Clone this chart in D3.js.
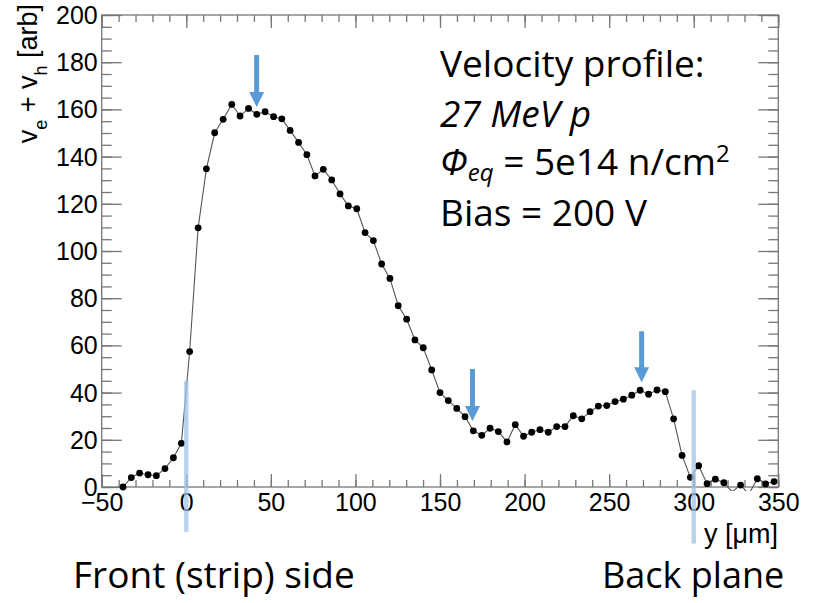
<!DOCTYPE html>
<html>
<head>
<meta charset="utf-8">
<script src="https://cdn.jsdelivr.net/npm/d3@7"></script>
<style>
  body { margin: 0; background: #fff; }
  svg { display: block; }
</style>
</head>
<body>
<div id="vis"></div>
<script>
// depth position y [um] of each measured point
var depth = [-37.4, -32.5, -27.6, -22.6, -17.7, -12.6, -7.6, -2.9, 2.0, 7.0,
    11.9, 16.8, 21.8, 26.9, 31.8, 36.8, 41.7, 46.6, 51.6, 56.5,
    61.4, 66.4, 71.3, 76.1, 81.0, 86.0, 90.9, 95.8, 100.8, 105.7,
    110.6, 115.5, 120.4, 125.3, 130.3, 135.2, 140.1, 145.1, 150.0, 154.9,
    159.9, 164.8, 169.7, 174.7, 179.6, 184.5, 189.6, 194.5, 199.4, 204.2,
    209.1, 214.0, 219.0, 223.9, 228.8, 233.8, 238.7, 243.6, 248.6, 253.5,
    258.4, 263.4, 268.3, 273.3, 278.3, 283.2, 288.1, 293.1, 298.0, 302.9,
    307.9, 312.8, 317.8, 322.7, 327.7, 332.6, 337.6, 342.5, 347.5];

// ve + vh [arb]
var velocity = [0, 4.0, 5.9, 5.2, 4.8, 7.8, 12.4, 18.5, 57.4, 109.8,
    134.8, 150.1, 155.8, 162.1, 157.2, 160.4, 157.9, 159.0, 156.9, 156.0,
    151.1, 146.0, 140.8, 131.8, 134.6, 130.1, 124.2, 119.1, 117.9, 107.8,
    104.4, 94.5, 88.4, 76.8, 71.1, 62.3, 59.0, 49.6, 40.0, 36.6,
    33.3, 29.8, 23.8, 21.9, 24.9, 23.5, 19.1, 26.4, 21.5, 23.2,
    24.3, 23.2, 25.6, 25.6, 30.2, 28.9, 31.9, 34.3, 34.5, 36.2,
    37.2, 38.9, 41.0, 39.3, 41.1, 40.4, 28.9, 13.4, 4.1, 9.0,
    1.4, 3.3, 1.8, -2, 0.8, -3, 3.5, 1.3, 2.3];

var xTicks = [-50, 0, 50, 100, 150, 200, 250, 300, 350];
var yTicks = [0, 20, 40, 60, 80, 100, 120, 140, 160, 180, 200];

// blue arrows: position, start and tip value
var arrowAt = [41.6, 169.2, 269.2];
var arrowTop = [183, 50, 66];
var arrowTip = [161, 28, 44.4];

// sensor edges (front strip side and back plane)
var edgeAt = [0, 300];
var edgeFrom = [45, 41];
var edgeTo = [-19, -24];

var width = 816;
var height = 603;

var x = d3.scaleLinear().domain([-50, 350]).range([101.7, 778.3]);
var y = d3.scaleLinear().domain([0, 200]).range([487, 15]);

var svg = d3.select('#vis')
    .append('svg')
    .attr('width', width)
    .attr('height', height);

var axisColor = '#777';
var tickFont = '"Liberation Sans", Arial, sans-serif';

function styleAxis(g) {
    g.select('.domain').remove();
    g.selectAll('.tick line').attr('stroke', axisColor).attr('stroke-width', 1.3);
    g.selectAll('.tick text')
        .attr('fill', '#000')
        .style('font-family', tickFont)
        .style('font-size', '25px');
}

// minor ticks
svg.append('g').attr('transform', 'translate(0,' + y(0) + ')')
    .call(d3.axisBottom(x).tickValues(d3.range(-50, 351, 10)).tickSize(-7).tickFormat(''))
    .call(styleAxis);
svg.append('g').attr('transform', 'translate(0,' + y(200) + ')')
    .call(d3.axisTop(x).tickValues(d3.range(-50, 351, 10)).tickSize(-7).tickFormat(''))
    .call(styleAxis);
svg.append('g').attr('transform', 'translate(' + x(-50) + ',0)')
    .call(d3.axisLeft(y).tickValues(d3.range(0, 201, 5)).tickSize(-10).tickFormat(''))
    .call(styleAxis);
svg.append('g').attr('transform', 'translate(' + x(350) + ',0)')
    .call(d3.axisRight(y).tickValues(d3.range(0, 201, 5)).tickSize(-10).tickFormat(''))
    .call(styleAxis);

// major ticks
svg.append('g').attr('transform', 'translate(0,' + y(0) + ')')
    .call(d3.axisBottom(x).tickValues(xTicks).tickSize(-13).tickPadding(6))
    .call(styleAxis);
svg.append('g').attr('transform', 'translate(0,' + y(200) + ')')
    .call(d3.axisTop(x).tickValues(xTicks).tickSize(-13).tickFormat(''))
    .call(styleAxis);
svg.append('g').attr('transform', 'translate(' + x(-50) + ',0)')
    .call(d3.axisLeft(y).tickValues(yTicks).tickSize(-20).tickPadding(4))
    .call(styleAxis)
    .call((g) => g.selectAll('.tick text').attr('dy', '0.34em'));
svg.append('g').attr('transform', 'translate(' + x(350) + ',0)')
    .call(d3.axisRight(y).tickValues(yTicks).tickSize(-20).tickFormat(''))
    .call(styleAxis);

// frame
svg.append('rect')
    .attr('x', x(-50)).attr('y', y(200))
    .attr('width', x(350) - x(-50)).attr('height', y(0) - y(200))
    .attr('fill', 'none').attr('stroke', axisColor).attr('stroke-width', 1.3);

// axis titles
var ylab = svg.append('text')
    .attr('transform', 'translate(37,4) rotate(-90)')
    .attr('text-anchor', 'end')
    .style('font-family', tickFont)
    .style('font-size', '27px');
ylab.append('tspan').text('v');
ylab.append('tspan').attr('baseline-shift', 'sub').style('font-size', '18px').text('e');
ylab.append('tspan').text(' + v');
ylab.append('tspan').attr('baseline-shift', 'sub').style('font-size', '18px').text('h');
ylab.append('tspan').text(' [arb]');

svg.append('text')
    .attr('x', 778).attr('y', 543)
    .attr('text-anchor', 'end')
    .style('font-family', tickFont)
    .style('font-size', '27px')
    .text('y [\u03bcm]');

// data
svg.append('clipPath').attr('id', 'frame')
    .append('rect')
    .attr('x', x(-50)).attr('y', y(200))
    .attr('width', x(350) - x(-50)).attr('height', y(0) - y(200) + 4);

var points = depth.map((d, i) => ({ pos: d, v: velocity[i] }));

var line = d3.line()
    .x((d) => x(d.pos))
    .y((d) => y(d.v));

var plot = svg.append('g').attr('clip-path', 'url(#frame)');

plot.append('path')
    .datum(points)
    .attr('d', line)
    .attr('fill', 'none')
    .attr('stroke', '#555')
    .attr('stroke-width', 1.1);

plot.selectAll('.dot')
    .data(points.filter((d) => d.v >= 0))
    .enter()
    .append('circle')
    .classed('dot', true)
    .attr('cx', (d) => x(d.pos))
    .attr('cy', (d) => y(d.v))
    .attr('r', 3.4)
    .attr('fill', '#000');

// edge markers
svg.selectAll('.edge')
    .data(edgeAt)
    .enter()
    .append('rect')
    .classed('edge', true)
    .attr('x', (d) => x(d) - 2.2)
    .attr('y', (d, i) => y(edgeFrom[i]))
    .attr('width', 4.4)
    .attr('height', (d, i) => y(edgeTo[i]) - y(edgeFrom[i]))
    .attr('fill', '#9DC3E6')
    .attr('opacity', 0.75);

// arrows
svg.selectAll('.arrow')
    .data(arrowAt)
    .enter()
    .append('path')
    .classed('arrow', true)
    .attr('fill', '#5B9BD5')
    .attr('d', (d, i) => {
        var cx = x(d), t = y(arrowTop[i]), tip = y(arrowTip[i]), h = 15;
        return 'M' + (cx - 2.5) + ',' + t + 'L' + (cx + 2.5) + ',' + t +
            'L' + (cx + 2.5) + ',' + (tip - h) + 'L' + (cx + 7.5) + ',' + (tip - h) +
            'L' + cx + ',' + tip + 'L' + (cx - 7.5) + ',' + (tip - h) +
            'L' + (cx - 2.5) + ',' + (tip - h) + 'Z';
    });

// info text
var infoFont = '"Open Sans", Lato, sans-serif';
var info = svg.append('g')
    .style('font-family', infoFont)
    .style('font-size', '37px')
    .attr('fill', '#000');

info.append('text').attr('x', 440).attr('y', 77).text('Velocity profile:');
info.append('text').attr('x', 440).attr('y', 127).style('font-style', 'italic').text('27 MeV p');
var phi = info.append('text').attr('x', 440).attr('y', 175);
phi.append('tspan').style('font-style', 'italic').text('\u03a6');
phi.append('tspan').style('font-style', 'italic').style('font-size', '24px').attr('dy', 6).text('eq');
phi.append('tspan').attr('dy', -6).text(' = 5e14 n/cm');
phi.append('tspan').style('font-size', '24px').attr('dy', -13).text('2');
info.append('text').attr('x', 440).attr('y', 226).text('Bias = 200 V');

info.append('text').attr('x', 73).attr('y', 588).text('Front (strip) side');
info.append('text').attr('x', 602).attr('y', 588).style('font-size', '36px').text('Back plane');
</script>
</body>
</html>
